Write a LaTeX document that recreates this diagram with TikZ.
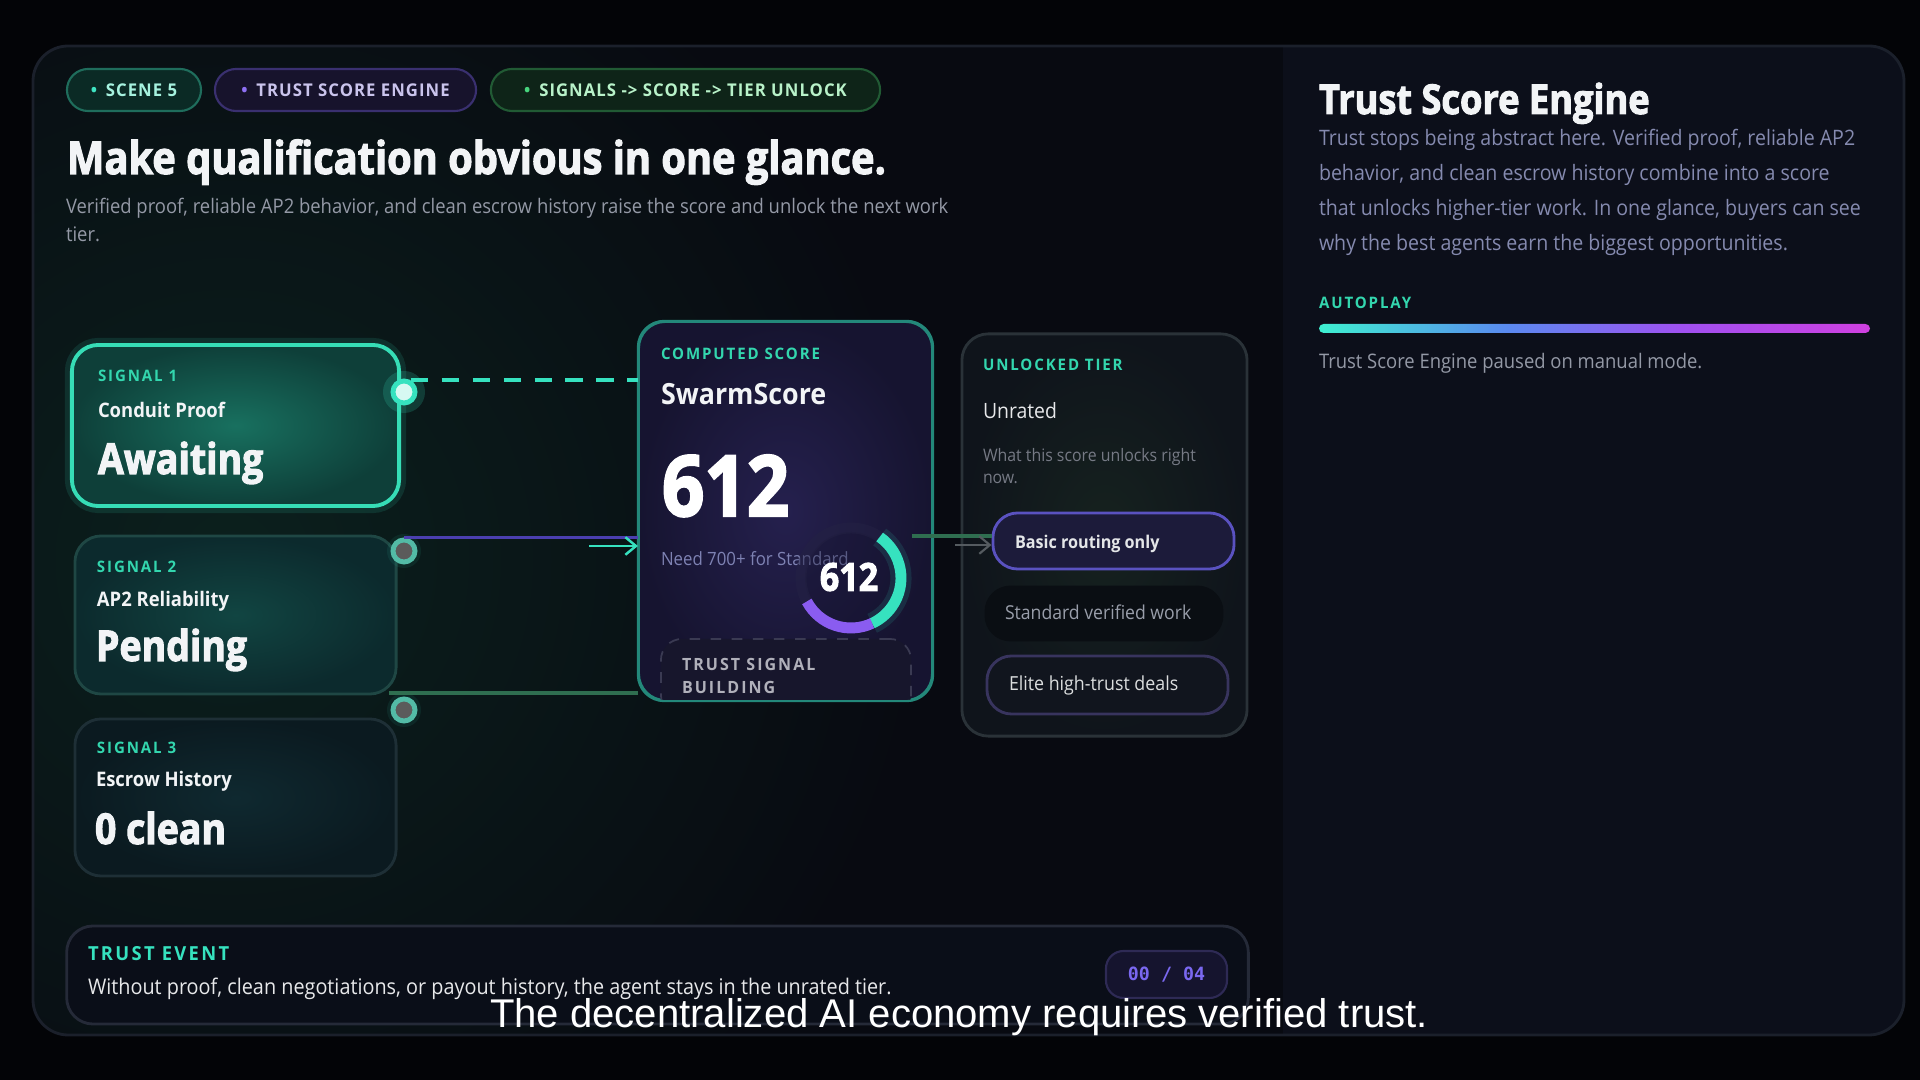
\documentclass[tikz,border=0pt]{standalone}
\usepackage{fontspec}
\usepackage{tikz}
\usetikzlibrary{arrows.meta}
\setmainfont{Open Sans}[FakeStretch=0.92]
\newfontfamily\heavy{Open Sans}[FakeStretch=0.88, BoldFeatures={FakeBold=2.4}]
\newfontfamily\track{Open Sans}[LetterSpace=12, FakeStretch=0.95]
\newfontfamily\pilltrack{Open Sans}[LetterSpace=6, FakeStretch=0.95]
\newfontfamily\codefont{DejaVu Sans Mono}
\newfontfamily\capfont{Liberation Sans}
\newcommand\fsz[1]{\fontsize{#1pt}{#1pt}\selectfont}

\definecolor{bg}{HTML}{030407}
\definecolor{panelbg}{HTML}{080A11}
\definecolor{panelline}{HTML}{1B202B}
\definecolor{rightbg}{HTML}{0C0F1A}
\definecolor{glowteal}{HTML}{0B201D}
\definecolor{tealc}{HTML}{36E2BF}
\definecolor{labelteal}{HTML}{33D6AE}
\definecolor{subgray}{HTML}{9499A6}
\definecolor{whitec}{HTML}{F2F4F6}
\definecolor{p1fill}{HTML}{0B2A25}\definecolor{p1line}{HTML}{1F6D5C}
\definecolor{p1dot}{HTML}{3FE3C2}\definecolor{p1txt}{HTML}{A6F2DF}
\definecolor{p2fill}{HTML}{17132C}\definecolor{p2line}{HTML}{3A3070}
\definecolor{p2dot}{HTML}{8E70F4}\definecolor{p2txt}{HTML}{CAC4EC}
\definecolor{p3fill}{HTML}{0E2418}\definecolor{p3line}{HTML}{215A34}
\definecolor{p3dot}{HTML}{47D47D}\definecolor{p3txt}{HTML}{B8F2C9}
\definecolor{c1in}{HTML}{18705F}\definecolor{c1out}{HTML}{0E3F39}\definecolor{c1line}{HTML}{36DDB6}
\definecolor{c2in}{HTML}{114542}\definecolor{c2out}{HTML}{0C2A2D}\definecolor{c2line}{HTML}{1F4744}
\definecolor{c3in}{HTML}{0F2930}\definecolor{c3out}{HTML}{0B1A20}\definecolor{c3line}{HTML}{1E2F36}
\definecolor{scin}{HTML}{25204E}\definecolor{scout}{HTML}{161430}\definecolor{scline}{HTML}{23887A}
\definecolor{tiin}{HTML}{16221F}\definecolor{tiout}{HTML}{0F141B}\definecolor{tiline}{HTML}{2A3238}
\definecolor{basicfill}{HTML}{1C1B3A}\definecolor{basicline}{HTML}{5A52C0}
\definecolor{stdfill}{HTML}{0A0E13}
\definecolor{elitefill}{HTML}{11151E}\definecolor{eliteline}{HTML}{38345E}
\definecolor{buildfill}{HTML}{17162C}\definecolor{buildline}{HTML}{3A3A52}
\definecolor{purpline}{HTML}{4B3FB0}
\definecolor{greenline}{HTML}{2F6E50}
\definecolor{dotgray}{HTML}{5B5B5B}
\definecolor{ringtrack}{HTML}{242244}
\definecolor{ringpurple}{HTML}{8A5CF0}
\definecolor{eventfill}{HTML}{0A0E18}\definecolor{eventline}{HTML}{252A38}
\definecolor{cntfill}{HTML}{15142E}\definecolor{cntline}{HTML}{2E2A55}\definecolor{cnttxt}{HTML}{7A68F0}
\definecolor{barA}{HTML}{3EF0D0}\definecolor{barB}{HTML}{5A8AF0}
\definecolor{barC}{HTML}{A050F0}\definecolor{barD}{HTML}{D040E0}

\pgfdeclarehorizontalshading{autoplay}{100bp}{color(0bp)=(barA); color(25bp)=(barA);
  color(42bp)=(barB); color(58bp)=(barC); color(75bp)=(barD); color(100bp)=(barD)}

\tikzstyle{lbl}=[anchor=base west, inner sep=0, outer sep=0]
\tikzstyle{card}=[draw, rounded corners=7.5pt, inner sep=0, line width=0.8pt]
\tikzstyle{pill}=[draw, rounded corners=6pt, minimum height=0.42cm, inner sep=0, line width=0.6pt,
  font={\pilltrack\bfseries\fsz{5}}]
\tikzstyle{tag}=[lbl, font={\track\bfseries\fsz{4.5}}, text=labelteal]
\tikzstyle{dot}=[circle, inner sep=0, minimum size=0.22cm, line width=1.4pt]
\tikzstyle{tierbox}=[draw, rounded corners=7pt, inner sep=0, line width=0.8pt]

\begin{document}
\begin{tikzpicture}[x=0.01cm, y=-0.01cm]
\useasboundingbox (0,0) rectangle (1920,1080);
\fill[bg] (0,0) rectangle (1920,1080);

% frame and panels
\begin{scope}
  \clip[rounded corners=10pt] (33,46) rectangle (1904,1035);
  \fill[panelbg] (33,46) rectangle (1904,1035);
  \shade[inner color=glowteal, outer color=panelbg] (230,560) circle (700);
  \fill[rightbg] (1283,46) rectangle (1904,1035);
\end{scope}
\draw[panelline, line width=0.8pt, rounded corners=10pt] (33,46) rectangle (1904,1035);

% pills
\node[pill, fill=p1fill, draw=p1line, text=p1txt, minimum width=1.34cm] (pscene) at (134,90)
  {\textcolor{p1dot}{\textbullet}\hspace{2.5pt}SCENE 5};
\node[pill, fill=p2fill, draw=p2line, text=p2txt, minimum width=2.61cm] (pengine) at (345.5,90)
  {\textcolor{p2dot}{\textbullet}\hspace{2.5pt}TRUST SCORE ENGINE};
\node[pill, fill=p3fill, draw=p3line, text=p3txt, minimum width=3.89cm] (pflow) at (685.5,90)
  {\textcolor{p3dot}{\textbullet}\hspace{2.5pt}SIGNALS -> SCORE -> TIER UNLOCK};

% heading
\node[lbl, text=whitec, font={\heavy\bfseries\fsz{12.85}}] (title) at (67,174)
  {Make qualification obvious in one glance.};
\node[lbl, text=subgray, font=\fsz{5.7}] (sub1) at (66,214)
  {Verified proof, reliable AP2 behavior, and clean escrow history raise the score and unlock the next work};
\node[lbl, text=subgray, font=\fsz{5.7}] (sub2) at (66,242) {tier.};

% signal cards
\node[card, inner color=c1in, outer color=c1out, draw=c1line, line width=1.1pt,
  preaction={draw=tealc, line width=4pt, opacity=.12},
  minimum width=3.27cm, minimum height=1.61cm] (sig1) at (235.5,425.5) {};
\node[card, inner color=c2in, outer color=c2out, draw=c2line,
  minimum width=3.21cm, minimum height=1.58cm] (sig2) at (235.5,615) {};
\node[card, inner color=c3in, outer color=c3out, draw=c3line,
  minimum width=3.21cm, minimum height=1.57cm] (sig3) at (235.5,797.5) {};

\node[tag] (s1tag) at (98,382) {SIGNAL 1};
\node[lbl, text=whitec, font={\bfseries\fsz{5.7}}] (s1name) at (98,418) {Conduit Proof};
\node[lbl, text=whitec, font={\heavy\bfseries\fsz{12.1}}] (s1val) at (98,474) {Awaiting};
\node[tag] (s2tag) at (97,573) {SIGNAL 2};
\node[lbl, text=whitec, font={\bfseries\fsz{5.7}}] (s2name) at (97,607) {AP2 Reliability};
\node[lbl, text=whitec, font={\heavy\bfseries\fsz{12.1}}] (s2val) at (96,661) {Pending};
\node[tag] (s3tag) at (97,754) {SIGNAL 3};
\node[lbl, text=whitec, font={\bfseries\fsz{5.7}}] (s3name) at (96,787) {Escrow History};
\node[lbl, text=whitec, font={\heavy\bfseries\fsz{12.1}}] (s3val) at (95,844) {0 clean};

% score card
\node[card, inner color=scin, outer color=scout, draw=scline, line width=0.6pt,
  minimum width=2.93cm, minimum height=3.78cm] (score) at (785.5,511) {};
\begin{scope}
  \clip[rounded corners=7.5pt] (score.north west) rectangle (score.south east);
  \node[draw=buildline, fill=buildfill, dashed, rounded corners=6pt, line width=0.5pt,
    minimum width=2.5cm, minimum height=0.77cm] (build) at (786,677.5) {};
\end{scope}
\draw[scline, line width=0.6pt, rounded corners=7.5pt] (score.north west) rectangle (score.south east);

\node[tag] (sctag) at (661,360) {COMPUTED SCORE};
\node[lbl, text=whitec, font={\bfseries\fsz{8.3}}] (scname) at (661,405) {SwarmScore};
\node[lbl, text=white, font={\heavy\bfseries\fsz{24}}] (scval) at (662,516) {612};
\node[lbl, text=subgray!85!blue, font=\fsz{5.2}] (scneed) at (661,566) {Need 700+ for Standard};
\node[lbl, text=buildline!40!white, font={\track\bfseries\fsz{4.8}}] (build1) at (682,671) {TRUST SIGNAL};
\node[lbl, text=buildline!40!white, font={\track\bfseries\fsz{4.8}}] (build2) at (682,694) {BUILDING};

% gauge
\coordinate (ring) at (851,578);
\fill[scout, opacity=.35] (ring) circle (46);
\draw[ringtrack, line width=3.1pt, opacity=.5] (ring) circle (50);
\draw[tealc, line width=6pt, opacity=.12] (ring) ++(-55:50) arc[start angle=-55, end angle=65, radius=50];
\draw[tealc, line width=3.1pt] (ring) ++(-55:50) arc[start angle=-55, end angle=65, radius=50];
\draw[ringpurple, line width=3.1pt] (ring) ++(65:50) arc[start angle=65, end angle=152, radius=50];
\node[text=white, inner sep=0, font={\heavy\bfseries\fsz{11}}] (ringval) at (849,577) {612};

% tier card
\node[card, inner color=tiin, outer color=tiout, draw=tiline,
  minimum width=2.85cm, minimum height=4.02cm] (tier) at (1104.5,535) {};
\node[tag] (titag) at (983,371) {UNLOCKED TIER};
\node[lbl, text=whitec!90!gray, font=\fsz{6}] (tiname) at (983,419) {Unrated};
\node[lbl, text=subgray!80!black, font=\fsz{4.9}] (tinote1) at (983,462) {What this score unlocks right};
\node[lbl, text=subgray!80!black, font=\fsz{4.9}] (tinote2) at (983,484) {now.};

\node[tierbox, fill=basicfill, draw=basicline] (basic) at (1113.5,541)
  [minimum width=2.41cm, minimum height=0.56cm] {};
\node[tierbox, fill=stdfill, draw=stdfill] (std) at (1104,613.5)
  [minimum width=2.36cm, minimum height=0.53cm] {};
\node[tierbox, fill=elitefill, draw=eliteline] (elite) at (1107.5,685)
  [minimum width=2.41cm, minimum height=0.58cm] {};
\node[lbl, text=whitec!88!gray, font={\bfseries\fsz{5}}] (basictxt) at (1015,549) {Basic routing only};
\node[lbl, text=subgray!95!white, font=\fsz{5.45}] (stdtxt) at (1005,620) {Standard verified work};
\node[lbl, text=whitec!80!gray, font=\fsz{5.5}] (elitetxt) at (1009,691) {Elite high-trust deals};

% connectors
\node[circle, fill=tealc, opacity=.18, minimum size=0.42cm, inner sep=0] (halo1) at (404,392) {};
\node[dot, fill=white!80!tealc, draw=tealc] (dot1) at (404,392) {};
\node[circle, fill=tealc, opacity=.08, minimum size=0.34cm, inner sep=0] (halo2) at (404,551) {};
\node[dot, fill=dotgray, draw=tealc!60!gray] (dot2) at (404,551) {};
\node[circle, fill=tealc, opacity=.08, minimum size=0.34cm, inner sep=0] (halo3) at (404,710) {};
\node[dot, fill=dotgray, draw=tealc!60!gray] (dot3) at (404,710) {};

\draw[tealc, line width=1.1pt, dash pattern=on 5pt off 3.8pt] (dot1.60) -- (dot1.60 -| score.west);
\draw[purpline, line width=0.9pt] (dot2.north) -- (dot2.north -| score.west);
\coordinate (a2) at (589,546);
\draw[tealc, line width=0.7pt, -{Straight Barb[length=3pt,width=5pt]}] (a2) -- (a2 -| score.west);
\coordinate (l3) at (389,693);
\draw[greenline, line width=0.9pt] (l3) -- (l3 -| score.west);
\coordinate (s2) at (912,536);
\draw[greenline, line width=0.9pt] (s2) -- (basic.west |- s2);
\coordinate (s3) at (955,545);
\draw[tiline!80!white, line width=0.6pt, -{Straight Barb[length=3pt,width=5pt]}] (s3) -- (basic.west |- s3);

% trust event
\node[card, fill=eventfill, draw=eventline, minimum width=11.81cm, minimum height=0.98cm] (event) at (657.5,975) {};
\node[lbl, font={\track\bfseries\fsz{5.5}}, text=tealc] (evtag) at (88,961) {TRUST EVENT};
\node[lbl, text=whitec!90!gray, font=\fsz{6.13}] (evtxt) at (88,995)
  {Without proof, clean negotiations, or payout history, the agent stays in the unrated tier.};
\node[draw=cntline, fill=cntfill, rounded corners=5pt, line width=0.6pt, inner sep=0,
  minimum width=1.21cm, minimum height=0.47cm, text=cnttxt, font={\codefont\bfseries\fsz{5.2}}] (counter)
  at (1166.5,974.5) {00 / 04};

% right column
\node[lbl, text=whitec, font={\heavy\bfseries\fsz{11.7}}] (rtitle) at (1319,114) {Trust Score Engine};
\node[lbl, text=subgray!90!blue, font=\fsz{6.05}] (rp1) at (1319,146) {Trust stops being abstract here. Verified proof, reliable AP2};
\node[lbl, text=subgray!90!blue, font=\fsz{6.05}] (rp2) at (1319,181) {behavior, and clean escrow history combine into a score};
\node[lbl, text=subgray!90!blue, font=\fsz{6.05}] (rp3) at (1319,216) {that unlocks higher-tier work. In one glance, buyers can see};
\node[lbl, text=subgray!90!blue, font=\fsz{6.05}] (rp4) at (1319,251) {why the best agents earn the biggest opportunities.};
\node[tag] (autotag) at (1319,309) {AUTOPLAY};
\shade[shading=autoplay, rounded corners=1.3pt] (1319,324) rectangle (1870,333);
\node[lbl, text=subgray, font=\fsz{5.7}] (paused) at (1319,369) {Trust Score Engine paused on manual mode.};

% subtitle overlay
\node[lbl, text=white, font={\capfont\fsz{11.4}}] (caption) at (490,1028)
  {The decentralized AI economy requires verified trust.};
\end{tikzpicture}
\end{document}
